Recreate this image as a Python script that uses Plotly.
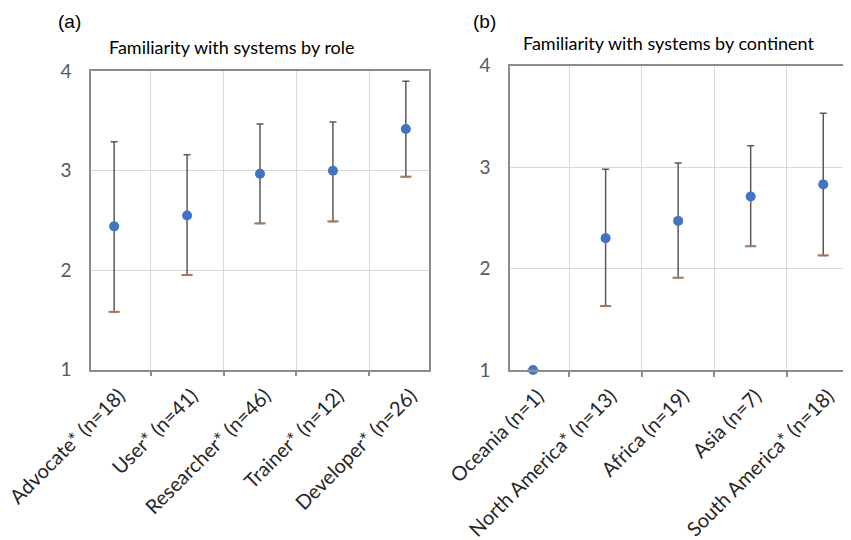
import plotly.graph_objects as go

# ---- data ----
roles = ["Advocate* (n=18)", "User* (n=41)", "Researcher* (n=46)", "Trainer* (n=12)", "Developer* (n=26)"]
role_mean = [2.44, 2.55, 2.97, 3.00, 3.42]
role_upper = [3.29, 3.16, 3.47, 3.49, 3.90]
role_lower = [1.58, 1.95, 2.47, 2.49, 2.94]

continents = ["Oceania (n=1)", "North America* (n=13)", "Africa (n=19)", "Asia (n=7)", "South America* (n=18)"]
cont_mean = [1.00, 2.30, 2.47, 2.71, 2.83]
cont_upper = [1.00, 2.98, 3.04, 3.21, 3.53]
cont_lower = [1.00, 1.63, 1.91, 2.22, 2.13]

yticks = [1, 2, 3, 4]

FONT = "Lato"
BLUE = "#4472C4"
ERR = "#595959"
CAP_LO = "#a5795c"

# page body has an 8px margin; size the figure so it fits the 851x540 window
OFF = 8
W, H = 851 - OFF, 540 - OFF


def px(x):
    return (x - OFF) / W


def py(y):
    return 1 - (y - OFF) / H


fig = go.Figure()


def add_panel(cats, mean, upper, lower, xa, ya):
    plus = [u - m for u, m in zip(upper, mean)]
    minus = [m - l for m, l in zip(mean, lower)]
    fig.add_trace(go.Scatter(
        x=cats, y=mean, mode="markers", xaxis=xa, yaxis=ya,
        marker=dict(color=BLUE, size=10),
        error_y=dict(type="data", symmetric=False, array=plus, arrayminus=minus,
                     color=ERR, thickness=1.5, width=3.5),
        cliponaxis=False, showlegend=False, hoverinfo="x+y"))
    fig.add_trace(go.Scatter(
        x=cats, y=lower, mode="markers", xaxis=xa, yaxis=ya,
        marker=dict(symbol="line-ew", size=8, line=dict(color=CAP_LO, width=2)),
        cliponaxis=False, showlegend=False, hoverinfo="skip"))


add_panel(roles, role_mean, role_upper, role_lower, "x", "y")
add_panel(continents, cont_mean, cont_upper, cont_lower, "x2", "y2")

xcommon = dict(type="category", tickson="boundaries", showgrid=True, gridcolor="#d9d9d9",
               gridwidth=1, showline=True, linecolor="#8c8c8c", linewidth=1.5, mirror=True,
               ticks="outside", ticklen=5, tickcolor="#8c8c8c", tickwidth=1.5,
               tickangle=-45, tickfont=dict(family=FONT, size=20, color="#262626"),
               ticklabelstandoff=5, ticklabelshift=5,
               zeroline=False, automargin=False)
ycommon = dict(range=[1, 4], tickvals=yticks, showgrid=True, gridcolor="#d9d9d9", gridwidth=1,
               showline=True, linecolor="#8c8c8c", linewidth=1.5, mirror=True, ticks="",
               tickfont=dict(family=FONT, size=19, color="#595959"), zeroline=False,
               ticklabelstandoff=14, automargin=False)

ann_common = dict(xref="paper", yref="paper", showarrow=False, xanchor="center", yanchor="middle")

fig.update_layout(
    width=W, height=H,
    margin=dict(l=0, r=0, t=0, b=0),
    plot_bgcolor="white", paper_bgcolor="white",
    xaxis=dict(domain=[px(91), px(429)], anchor="y", **xcommon),
    yaxis=dict(domain=[py(369.5), py(71.3)], anchor="x", **ycommon),
    xaxis2=dict(domain=[px(510), px(846.3)], anchor="y2", **xcommon),
    yaxis2=dict(domain=[py(370), py(65.7)], anchor="x2", **ycommon),
    annotations=[
        dict(text="(a)", x=px(69), y=py(22),
             font=dict(family="Liberation Sans", size=19, color="black"), **ann_common),
        dict(text="(b)", x=px(485), y=py(22),
             font=dict(family="Liberation Sans", size=19, color="black"), **ann_common),
        dict(text="Familiarity with systems by role", x=px(232.5), y=py(47),
             font=dict(family=FONT, size=18, color="black"), **ann_common),
        dict(text="Familiarity with systems by continent", x=px(668.5), y=py(43),
             font=dict(family=FONT, size=18, color="black"), **ann_common),
    ],
)

fig.write_html("out.html")
